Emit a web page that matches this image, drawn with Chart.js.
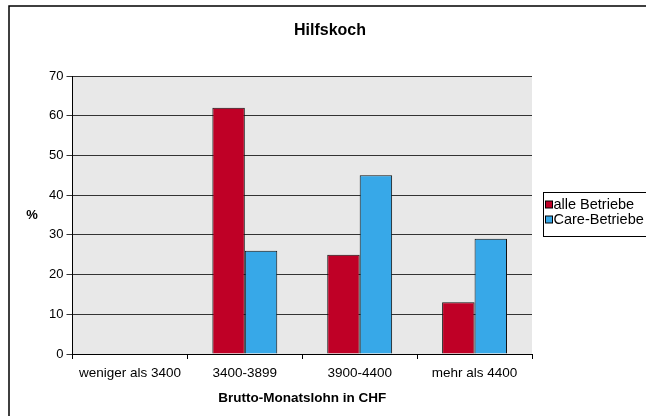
<!DOCTYPE html>
<html>
<head>
<meta charset="utf-8">
<script src="https://cdn.jsdelivr.net/npm/chart.js@4"></script>
<style>
  html, body { margin: 0; padding: 0; background: #fff; }
  #wrap { width: 646px; height: 416px; position: relative; }
</style>
</head>
<body>
<div id="wrap"><canvas id="c"></canvas></div>
<script>
const categories = ['weniger als 3400', '3400-3899', '3900-4400', 'mehr als 4400'];
const alleBetriebe = [0, 62, 25, 13];
const careBetriebe = [0, 26, 45, 29];
const seriesNames = ['alle Betriebe', 'Care-Betriebe'];
const seriesColors = ['#bf0026', '#37a8e8'];

const FONT = 'Arial, "Liberation Sans", sans-serif';

// frame, grey plot area, title, "%" label and boxed legend (Excel look)
const excelDecor = {
  id: 'excelDecor',
  beforeDraw(chart) {
    const ctx = chart.ctx, a = chart.chartArea;
    ctx.save();
    ctx.fillStyle = '#fff';
    ctx.fillRect(0, 0, chart.width, chart.height);
    ctx.strokeStyle = '#000';
    ctx.lineWidth = 1.5;
    ctx.beginPath();
    ctx.moveTo(9, chart.height);
    ctx.lineTo(9, 6);
    ctx.lineTo(chart.width, 6);
    ctx.stroke();
    ctx.fillStyle = '#e8e8e8';
    ctx.fillRect(a.left, a.top, a.right - a.left, a.bottom - a.top);
    ctx.restore();
  },
  afterDraw(chart) {
    const ctx = chart.ctx, a = chart.chartArea;
    ctx.save();
    ctx.fillStyle = '#000';
    ctx.textBaseline = 'middle';
    ctx.textAlign = 'center';
    ctx.font = 'bold 16px ' + FONT;
    ctx.fillText('Hilfskoch', 330, 31);
    ctx.font = 'bold 13px ' + FONT;
    ctx.fillText('%', 32, (a.top + a.bottom) / 2);

    // legend
    const lx = 543.5, ly = 192.5;
    ctx.strokeStyle = '#000';
    ctx.lineWidth = 1;
    ctx.strokeRect(lx, ly, 120, 44);
    ctx.textAlign = 'left';
    ctx.font = '14.5px ' + FONT;
    seriesNames.forEach((name, i) => {
      const y = ly + 12 + i * 15;
      ctx.fillStyle = seriesColors[i];
      ctx.fillRect(lx + 2, y - 3.5, 7, 7);
      ctx.strokeStyle = '#000';
      ctx.strokeRect(lx + 2, y - 3.5, 7, 7);
      ctx.fillStyle = '#000';
      ctx.fillText(name, lx + 10, y);
    });
    ctx.restore();
  }
};

new Chart(document.getElementById('c'), {
  type: 'bar',
  data: {
    labels: categories,
    datasets: [
      { label: seriesNames[0], data: alleBetriebe, backgroundColor: seriesColors[0], borderColor: '#111', borderWidth: 1 },
      { label: seriesNames[1], data: careBetriebe, backgroundColor: seriesColors[1], borderColor: '#111', borderWidth: 1 }
    ]
  },
  options: {
    responsive: true,
    maintainAspectRatio: false,
    animation: false,
    categoryPercentage: 0.565,
    barPercentage: 1,
    layout: { padding: { top: 76, right: 114, left: 0, bottom: 0 } },
    plugins: {
      legend: { display: false },
      tooltip: { enabled: false }
    },
    scales: {
      x: {
        afterFit(scale) { scale.height = 62; },
        grid: { offset: true, drawOnChartArea: false, tickLength: 5, color: '#000' },
        border: { color: '#000', width: 1 },
        ticks: { color: '#000', font: { family: FONT, size: 13.5 }, padding: 6, maxRotation: 0, autoSkip: false },
        title: {
          display: true,
          text: 'Brutto-Monatslohn in CHF',
          color: '#000',
          font: { family: FONT, size: 13.5, weight: 'bold' },
          padding: { top: 4, bottom: 10 }
        }
      },
      y: {
        min: 0,
        max: 70,
        afterFit(scale) { scale.width = 72.5; },
        ticks: { stepSize: 10, color: '#000', font: { family: FONT, size: 13 }, padding: 3 },
        grid: { color: '#333', tickLength: 6 },
        border: { color: '#000', width: 1 }
      }
    }
  },
  plugins: [excelDecor]
});
</script>
</body>
</html>
